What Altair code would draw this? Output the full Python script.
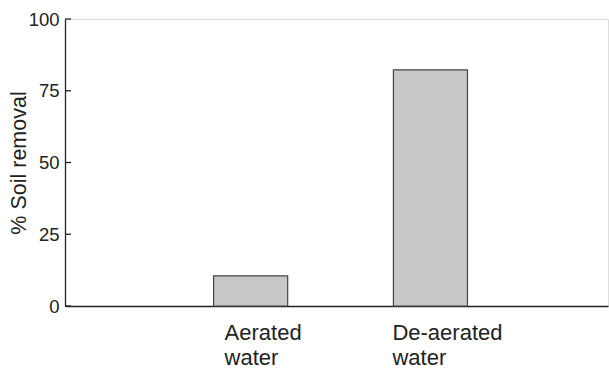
import altair as alt
import pandas as pd

# Soil removal for the two water treatments
categories = ["Aerated water", "De-aerated water"]
label_lines = ["Aerated\nwater", "De-aerated\nwater"]
removal = [10.5, 82.3]
y_ticks = [0, 25, 50, 75, 100]

bars_df = pd.DataFrame({"treatment": categories, "removal": removal, "label": label_lines})
ticks_df = pd.DataFrame({"tick": y_ticks})

FONT = "Liberation Sans"
INK = "#222222"
W, H = 543, 287

x_scale = alt.Scale(domain=categories, paddingInner=0.588, paddingOuter=0.804, align=0.514)
y_scale = alt.Scale(domain=[0, 100], nice=False)

bars = alt.Chart(bars_df).mark_bar(
    color="#c8c8c8", stroke="#444444", strokeWidth=1.2
).encode(
    x=alt.X("treatment:N", scale=x_scale, sort=categories,
            axis=alt.Axis(labels=False, ticks=False, title=None,
                          domainColor=INK, domainWidth=1.3)),
    y=alt.Y("removal:Q", scale=y_scale,
            axis=alt.Axis(values=y_ticks, ticks=False, grid=False,
                          domainColor=INK, domainWidth=1.3,
                          labelFont=FONT, labelFontSize=18.5, labelColor=INK,
                          labelPadding=6,
                          title="% Soil removal", titleFont=FONT,
                          titleFontSize=21.5, titleFontWeight="normal",
                          titleColor=INK, titleBaseline="alphabetic",
                          titleX=-40)),
)

# inward-pointing tick marks on the y axis
ticks = alt.Chart(ticks_df).mark_rule(color=INK, strokeWidth=1.3).encode(
    y=alt.Y("tick:Q", scale=y_scale),
    x=alt.value(0),
    x2=alt.value(6),
)

def category_label(name, dx):
    return alt.Chart(bars_df).transform_filter(
        alt.datum.treatment == name
    ).mark_text(
        align="left", baseline="alphabetic", font=FONT, fontSize=22,
        color=INK, lineBreak="\n", lineHeight=25, dx=dx
    ).encode(
        x=alt.X("treatment:N", scale=x_scale, sort=categories, bandPosition=0),
        y=alt.value(H + 34),
        text="label:N",
    )

chart = alt.layer(
    bars, ticks,
    category_label(categories[0], 11),
    category_label(categories[1], -1),
).properties(
    width=W, height=H,
    autosize=alt.AutoSizeParams(type="none"),
    padding={"left": 65, "top": 19, "right": 1, "bottom": 65},
).configure_view(stroke=None).configure(background="white")

chart.save("out.html", embed_options={"renderer": "svg", "actions": False})
